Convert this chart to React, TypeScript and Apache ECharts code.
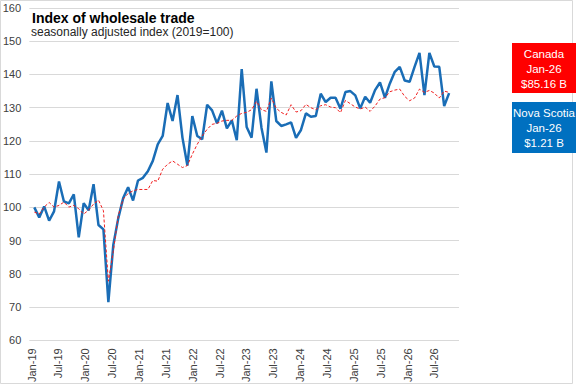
import React, { useEffect, useRef } from "react";
import * as echarts from "echarts";

const MONTHS = ["Jan", "Feb", "Mar", "Apr", "May", "Jun", "Jul", "Aug", "Sep", "Oct", "Nov", "Dec"];
const YEARS = ["19", "20", "21", "22", "23", "24", "25", "26"];
// tick-label categories of the date axis (Jan-19 .. Dec-26)
const axisMonths: string[] = YEARS.flatMap((y) => MONTHS.map((m) => `${m}-${y}`));
// months that carry data (Jan-19 .. Jan-26)
const dataMonths: string[] = axisMonths.slice(0, 85);

const novaScotia: number[] = [
  100, 97, 100.3, 96, 98.8, 107.8, 101.8, 101.2, 103.9, 91, 101.3, 99.1,
  107, 94.7, 93.4, 71.5, 88.7, 96.7, 102.8, 106.1, 102.1, 108.1, 108.9, 110.9,
  114, 119, 121.5, 131.4, 126, 133.8, 121, 112.6, 127.5, 121.5, 120.5, 130.9,
  129.2, 125.3, 129.1, 123.8, 126.2, 120.2, 141.6, 124.2, 121, 135.7, 124, 116.5,
  137.9, 126, 124.5, 125, 125.6, 120.9, 123.3, 128.3, 127.3, 127.5, 134.2, 131.7,
  133, 133, 129.7, 134.7, 135, 133.7, 129.8, 133.3, 131.5, 135.3, 137.6, 133,
  137.3, 140.8, 142.3, 138.2, 137.8, 142.3, 146.5, 133.8, 146.5, 142.4, 142.3, 130.5,
  134.4,
];

const canada: number[] = [
  98.6, 98, 100.1, 101.5, 100.1, 100.6, 101.6, 100.1, 100.6, 99.6, 98, 99.2,
  101, 102.2, 99, 77.8, 86.8, 97.5, 102.5, 104.2, 105, 105.4, 105.4, 105.4,
  108.1, 107.9, 111.5, 113, 114, 113, 112, 112.6, 116, 119, 121.5, 123.5,
  125, 125.3, 126, 126.2, 126.2, 127.5, 128.3, 128.6, 129.4, 131.9, 129.4, 128.9,
  132.9, 129.8, 128.6, 127.8, 130.9, 128.7, 129.1, 131, 130, 129.4, 130.6, 130.9,
  130.2, 130, 128.5, 132.2, 131.2, 130.2, 129.6, 130.2, 128.9, 130.5, 132.6, 133,
  134.8, 135.3, 135.6, 133.4, 132.1, 132.9, 135.6, 134.6, 135.2, 134.4, 132.9, 135,
  134.6,
];

const Y_MAX_LABEL = "160";
const TITLE = "Index of wholesale trade";
const SUBTITLE = "seasonally adjusted index (2019=100)";
const CANADA_BOX = ["Canada", "Jan-26", "$85.16 B"];
const NS_BOX = ["Nova Scotia", "Jan-26", "$1.21 B"];

const FONT = "'Liberation Sans', Arial, sans-serif";

export default function App() {
  const ref = useRef<HTMLDivElement>(null);

  useEffect(() => {
    if (!ref.current) return;
    const chart = echarts.init(ref.current, undefined, { renderer: "svg" });
    const toPairs = (arr: number[]) => arr.map((v, i) => [i, v, dataMonths[i]]);

    chart.setOption({
      animation: false,
      backgroundColor: "#ffffff",
      grid: { left: 29, right: 117, top: 8, bottom: 42, containLabel: false },
      xAxis: [
        {
          type: "category",
          data: axisMonths,
          boundaryGap: true,
          axisLine: { show: false },
          axisTick: { show: false },
          splitLine: { show: false },
          axisLabel: {
            interval: 5,
            rotate: 90,
            margin: 8,
            fontSize: 11,
            fontFamily: FONT,
            color: "#404040",
          },
        },
        {
          type: "value",
          min: -1,
          max: 86,
          show: false,
          position: "top",
          splitLine: { show: false },
        },
      ],
      yAxis: {
        type: "value",
        min: 60,
        max: 160,
        interval: 10,
        axisLine: { show: false },
        axisTick: { show: false },
        axisLabel: {
          fontSize: 11,
          fontFamily: FONT,
          color: "#404040",
          margin: 8,
          showMinLabel: true,
          formatter: (v: number) => (v >= 160 ? "" : String(v)),
        },
        splitLine: { lineStyle: { color: "#D9D9D9", width: 1 } },
      },
      series: [
        {
          name: "Nova Scotia",
          type: "line",
          xAxisIndex: 1,
          data: toPairs(novaScotia),
          showSymbol: false,
          symbol: "none",
          lineStyle: { color: "#1A6DB6", width: 2.5 },
          z: 2,
        },
        {
          name: "Canada",
          type: "line",
          xAxisIndex: 1,
          data: toPairs(canada),
          showSymbol: false,
          symbol: "none",
          lineStyle: { color: "#F02020", width: 1, type: [3, 2] },
          z: 3,
        },
      ],
      graphic: [
        {
          type: "rect",
          shape: { x: 0.5, y: 0.5, width: 572, height: 383 },
          style: { fill: "none", stroke: "#D9D9D9", lineWidth: 1 },
          silent: true,
        },
        {
          type: "text",
          x: 21,
          y: 8,
          style: {
            text: Y_MAX_LABEL,
            fontSize: 11,
            fontFamily: FONT,
            fill: "#404040",
            align: "right",
            verticalAlign: "middle",
          },
        },
        {
          type: "text",
          x: 32,
          y: 18,
          style: {
            text: TITLE,
            fontSize: 14,
            fontWeight: "bold",
            fontFamily: FONT,
            fill: "#000000",
            align: "left",
            verticalAlign: "middle",
          },
        },
        {
          type: "text",
          x: 31,
          y: 32,
          style: {
            text: SUBTITLE,
            fontSize: 12,
            fontFamily: FONT,
            fill: "#262626",
            align: "left",
            verticalAlign: "middle",
          },
        },
        {
          type: "rect",
          shape: { x: 512, y: 43, width: 64, height: 50 },
          style: { fill: "#FF0000" },
        },
        {
          type: "text",
          x: 544,
          y: 69,
          style: {
            text: CANADA_BOX.join("\n"),
            fontSize: 11.5,
            lineHeight: 15,
            fontFamily: FONT,
            fill: "#ffffff",
            align: "center",
            verticalAlign: "middle",
          },
        },
        {
          type: "rect",
          shape: { x: 512, y: 102, width: 64, height: 51 },
          style: { fill: "#0070C0" },
        },
        {
          type: "text",
          x: 544,
          y: 128,
          style: {
            text: NS_BOX.join("\n"),
            fontSize: 11.5,
            lineHeight: 15,
            fontFamily: FONT,
            fill: "#ffffff",
            align: "center",
            verticalAlign: "middle",
          },
        },
      ],
    });

    return () => chart.dispose();
  }, []);

  return (
    <div
      ref={ref}
      style={{ position: "fixed", left: 0, top: 0, width: 576, height: 385 }}
    />
  );
}
